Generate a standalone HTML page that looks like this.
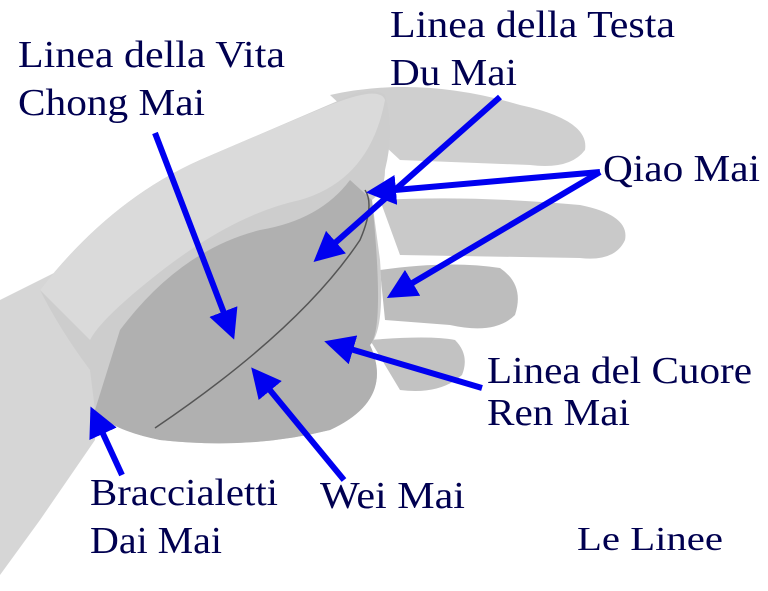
<!DOCTYPE html>
<html><head><meta charset="utf-8"><style>
html,body{margin:0;padding:0;background:#fff;}
svg{display:block}
text{font-family:"Liberation Serif",serif;fill:#000050;}
</style></head><body>
<svg width="768" height="591" viewBox="0 0 768 591" xmlns="http://www.w3.org/2000/svg">
<defs>
<marker id="ah" markerWidth="5" markerHeight="5" refX="4" refY="2.5" orient="auto" markerUnits="strokeWidth">
<path d="M0,0 L5,2.5 L0,5 z" fill="#0000f0"/></marker>
</defs>
<path d="M0,300 L60,270 L100,300 L95,440 L40,520 L0,575 Z" fill="#d6d6d6"/>
<path d="M330,95 Q420,75 520,105 Q590,120 585,150 Q570,170 530,165 L400,160 Z" fill="#cfcfcf"/>
<path d="M380,200 Q470,195 580,205 Q630,215 625,240 Q615,262 580,258 L400,255 Z" fill="#c9c9c9"/>
<path d="M380,270 Q450,260 500,268 Q525,285 515,315 Q495,335 450,325 L385,320 Z" fill="#bdbdbd"/>
<path d="M370,340 Q430,335 455,340 Q470,355 462,375 Q440,395 400,390 Z" fill="#c2c2c2"/>
<path d="M40,290 Q110,200 200,160 Q270,130 340,100 Q370,85 385,95 Q395,130 385,170 Q385,190 372,200 L380,260 Q385,330 370,345 Q395,400 330,430 Q250,450 160,440 Q110,430 95,410 L90,370 Q60,330 40,290 Z" fill="#cdcdcd"/>
<path d="M120,330 Q180,250 260,230 Q320,220 350,180 L372,200 Q385,330 370,345 Q395,400 330,430 Q250,450 160,440 Q110,430 95,410 Z" fill="#b0b0b0"/>
<path d="M40,290 Q110,200 200,160 Q270,130 330,105 Q380,85 385,100 Q370,180 300,200 Q230,215 150,280 Q100,320 90,340 Z" fill="#dadada"/>
<path d="M155,428 Q300,330 360,240 Q375,205 365,190" stroke="#555" stroke-width="1.5" fill="none"/>
<g stroke="#0000f0" stroke-width="6" fill="none" marker-end="url(#ah)">
<line x1="155" y1="133" x2="232" y2="334"/>
<line x1="500" y1="97" x2="318" y2="258"/>
<line x1="600" y1="172" x2="372" y2="192"/>
<line x1="600" y1="172" x2="392" y2="295"/>
<line x1="482" y1="388" x2="330" y2="343"/>
<line x1="344" y1="480" x2="255" y2="372"/>
<line x1="122" y1="475" x2="93" y2="412"/>
</g>
<g font-size="38" lengthAdjust="spacingAndGlyphs">
<text x="18" y="67" textLength="267" lengthAdjust="spacingAndGlyphs">Linea della Vita</text>
<text x="18" y="115" textLength="187" lengthAdjust="spacingAndGlyphs">Chong Mai</text>
<text x="390" y="37" textLength="285" lengthAdjust="spacingAndGlyphs">Linea della Testa</text>
<text x="390" y="85" textLength="127" lengthAdjust="spacingAndGlyphs">Du Mai</text>
<text x="603" y="181" textLength="157" lengthAdjust="spacingAndGlyphs">Qiao Mai</text>
<text x="487" y="383" textLength="265" lengthAdjust="spacingAndGlyphs">Linea del Cuore</text>
<text x="487" y="425" textLength="143" lengthAdjust="spacingAndGlyphs">Ren Mai</text>
<text x="320" y="508" textLength="145" lengthAdjust="spacingAndGlyphs">Wei Mai</text>
<text x="90" y="505" textLength="188" lengthAdjust="spacingAndGlyphs">Braccialetti</text>
<text x="90" y="553" textLength="132" lengthAdjust="spacingAndGlyphs">Dai Mai</text>
</g>
<text x="577" y="550" font-size="34" textLength="146" lengthAdjust="spacingAndGlyphs">Le Linee</text>
</svg>
</body></html>
